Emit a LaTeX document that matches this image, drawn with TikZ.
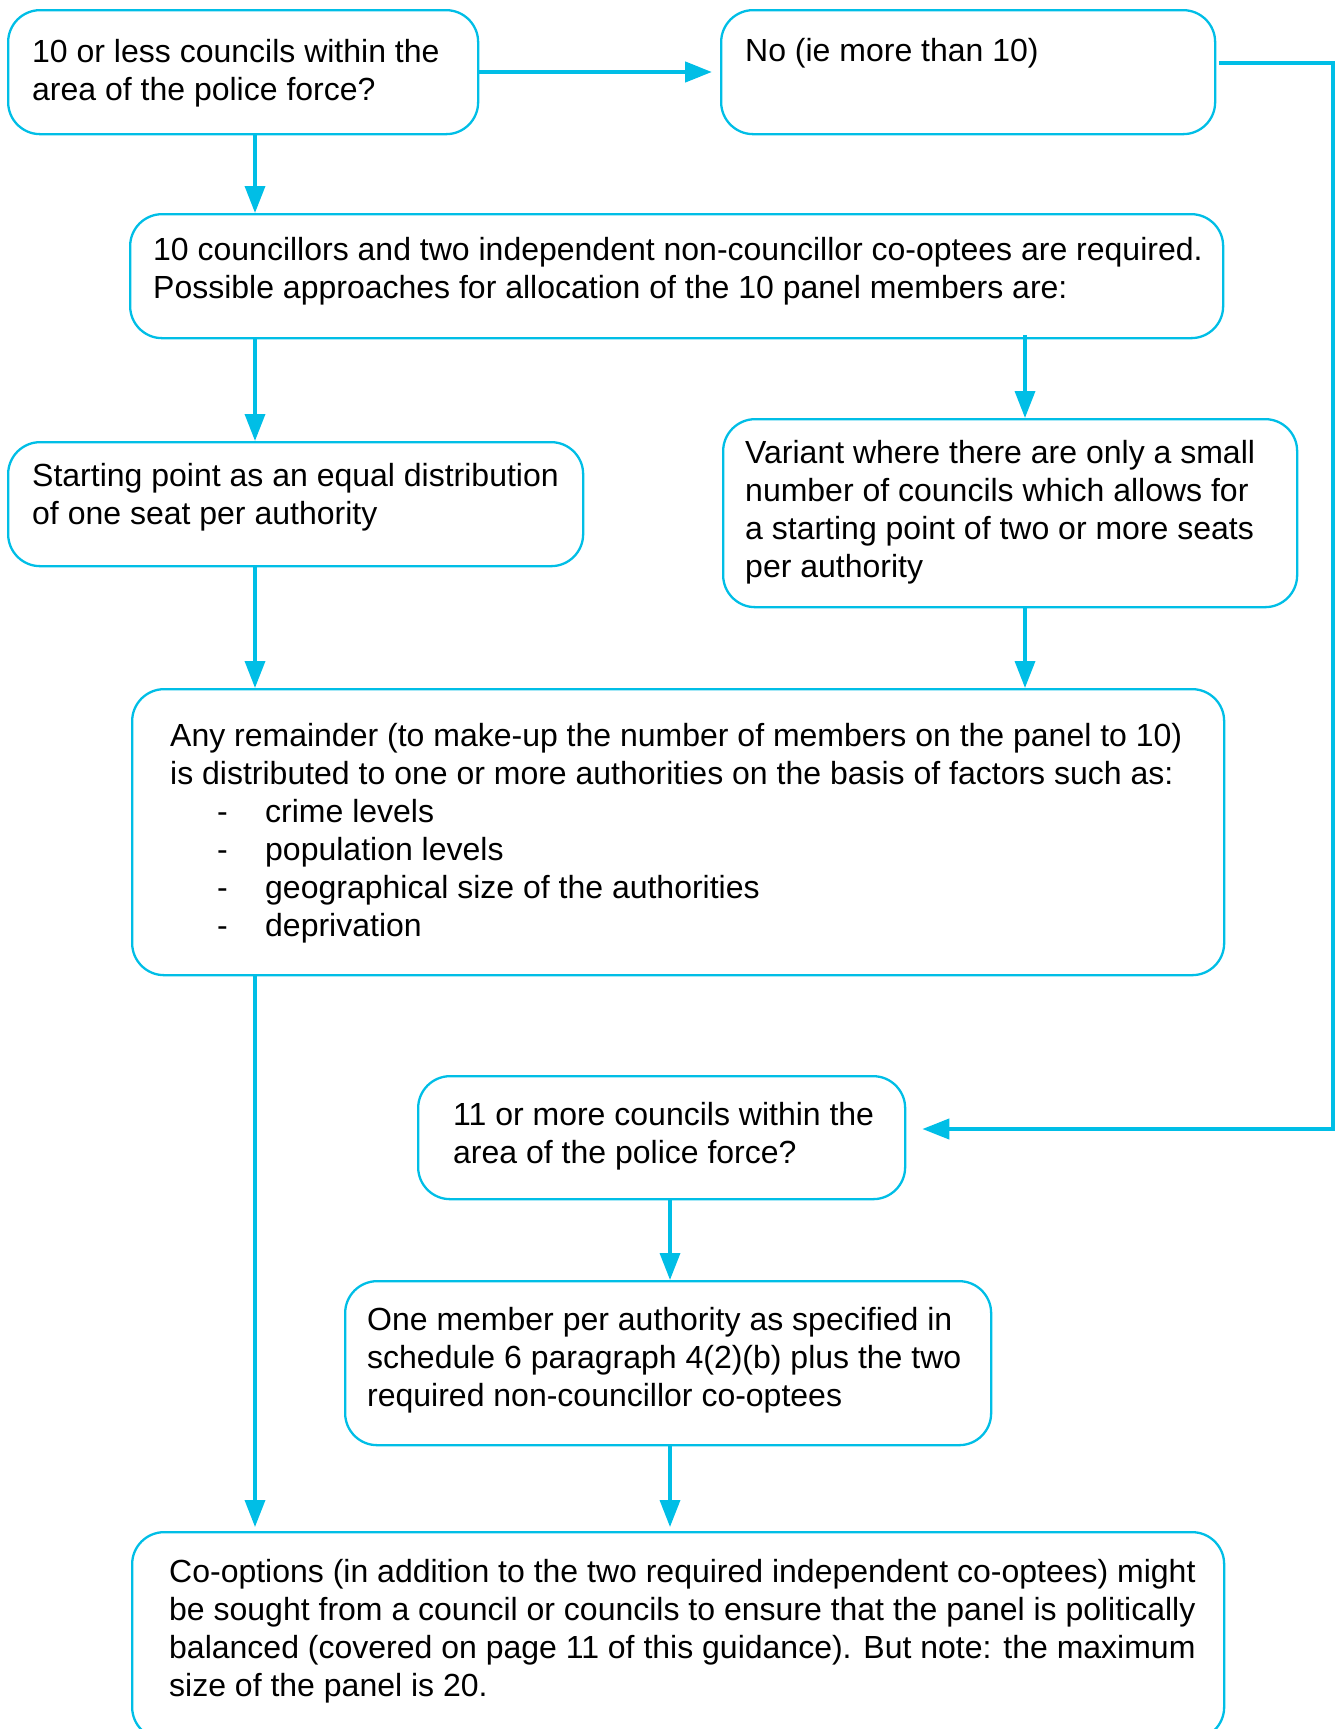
\documentclass[tikz,border=0pt]{standalone}
\usepackage{fontspec}
\setmainfont{Liberation Sans}
\usetikzlibrary{arrows.meta}
\definecolor{flowcyan}{RGB}{0,190,230}
\begin{document}
\begin{tikzpicture}[x=1pt,y=-1pt,
  box/.style={draw=flowcyan, line width=2.3pt, rounded corners=32pt, inner sep=0pt, anchor=north west},
  txt/.style={anchor=base west, inner sep=0pt, align=left, font=\fontsize{32}{38}\selectfont},
  arr/.style={draw=flowcyan, line width=3.5pt, -{Triangle[length=27pt,width=20pt]}}
]
\useasboundingbox (0,0) rectangle (1341,1729);
\clip (0,0) rectangle (1341,1729);

% boxes
\node[box, minimum width=470pt, minimum height=124pt] (b1) at (7,9) {};
\node[box, minimum width=494pt, minimum height=124pt] (b2) at (720,9) {};
\node[box, minimum width=1093pt, minimum height=124pt] (b3) at (129,213) {};
\node[box, minimum width=575pt, minimum height=124pt] (b4) at (7,441) {};
\node[box, minimum width=574pt, minimum height=188pt] (b5) at (722,418) {};
\node[box, minimum width=1092pt, minimum height=286pt] (b6) at (131,688) {};
\node[box, minimum width=487pt, minimum height=123pt] (b7) at (417,1075) {};
\node[box, minimum width=646pt, minimum height=164pt] (b8) at (344,1280) {};
\node[box, minimum width=1092pt, minimum height=207pt] (b9) at (131,1531) {};

% texts (anchor = baseline of the last line)
\node[txt] (t1) at (32,100) {10 or less councils within the\\area of the police force?};
\node[txt] (t2) at (745,61) {No (ie more than 10)};
\node[txt] (t3) at (153,298) {10 councillors and two independent non-councillor co-optees are required.\\Possible approaches for allocation of the 10 panel members are:};
\node[txt] (t4) at (32,524) {Starting point as an equal distribution\\of one seat per authority};
\node[txt] (t5) at (745,577) {Variant where there are only a small\\number of councils which allows for\\a starting point of two or more seats\\per authority};
\node[txt] (t6) at (170,936) {Any remainder (to make-up the number of members on the panel to 10)\\is distributed to one or more authorities on the basis of factors such as:\\
\hspace*{47pt}\makebox[48pt][l]{-}crime levels\\
\hspace*{47pt}\makebox[48pt][l]{-}population levels\\
\hspace*{47pt}\makebox[48pt][l]{-}geographical size of the authorities\\
\hspace*{47pt}\makebox[48pt][l]{-}deprivation};
\node[txt] (t7) at (453,1163) {11 or more councils within the\\area of the police force?};
\node[txt] (t8) at (367,1406) {One member per authority as specified in\\schedule 6 paragraph 4(2)(b) plus the two\\required non-councillor co-optees};
\node[txt] (t9) at (169,1696) {Co-options (in addition to the two required independent co-optees) might\\be sought from a council or councils to ensure that the panel is politically\\balanced (covered on page 11 of this guidance). But note: the maximum\\size of the panel is 20.};

% guide coordinates
\coordinate (xa) at (255,0);
\coordinate (xb) at (1025,0);
\coordinate (xc) at (670,0);
\coordinate (xr) at (1333,0);
\coordinate (ya) at (0,72);
\coordinate (yb) at (0,63);
\coordinate (yc) at (0,1129);

% connectors
\draw[arr, line width=4.5pt] (b1.east |- ya) -- ([xshift=-8pt]b2.west |- ya);
\draw[arr] (b1.south -| xa) -- (b3.north -| xa);
\draw[arr] (b3.south -| xa) -- (b4.north -| xa);
\draw[arr] ([yshift=4pt]b3.south -| xb) -- (b5.north -| xb);
\draw[arr] (b4.south -| xa) -- (b6.north -| xa);
\draw[arr] (b5.south -| xb) -- (b6.north -| xb);
\draw[arr] (b6.south -| xa) -- ([yshift=4pt]b9.north -| xa);
\draw[arr, line width=4pt] ([xshift=3pt]b2.east |- yb) -- (xr |- yb) -- (xr |- yc) -- ([xshift=16pt]b7.east |- yc);
\draw[arr] (b7.south -| xc) -- (b8.north -| xc);
\draw[arr] (b8.south -| xc) -- ([yshift=4pt]b9.north -| xc);
\end{tikzpicture}
\end{document}
